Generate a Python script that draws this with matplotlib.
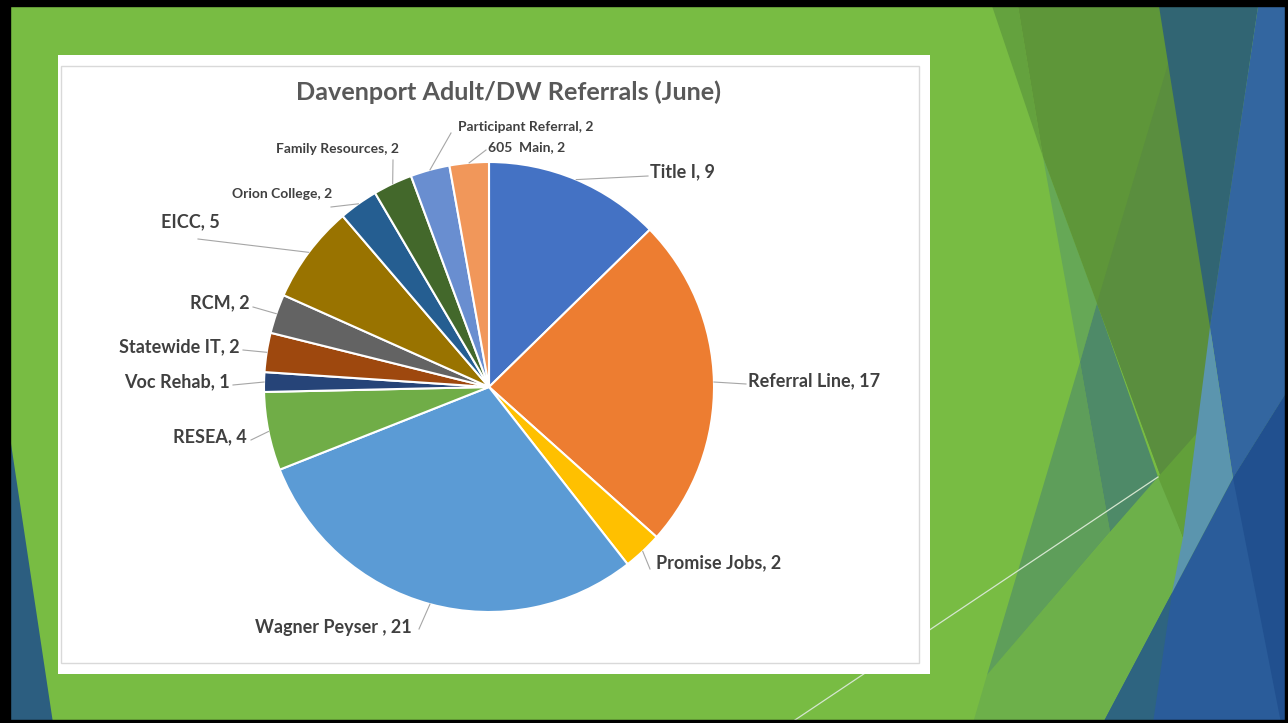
"""Davenport Adult/DW Referrals (June) pie chart on a slide-style background."""

import matplotlib

matplotlib.use("Agg")

import numpy as np
import matplotlib.pyplot as plt
from matplotlib.patches import Polygon, Rectangle

W, H = 1288, 723

# data
categories = [
    "Title I", "Referral Line", "Promise Jobs", "Wagner Peyser ", "RESEA",
    "Voc Rehab", "Statewide IT", "RCM", "EICC", "Orion College",
    "Family Resources", "Participant Referral", "605  Main",
]
values = [9, 17, 2, 21, 4, 1, 2, 2, 5, 2, 2, 2, 2]
colors = [
    "#4472C4", "#ED7D31", "#FFC000", "#5B9BD5", "#70AD47", "#264478",
    "#9E480E", "#636363", "#997300", "#255E91", "#43682B", "#698ED0",
    "#F1975A",
]

# label layout in slide pixels: text x, text y, ha, size, leader end x, leader end y
label_layout = [
    (650, 172, "left", 13, 648, 176),
    (748, 381, "left", 13, 746, 384),
    (656, 563, "left", 13, 650, 569),
    (412, 627, "right", 13, 419, 629),
    (247, 437, "right", 13, 251, 440),
    (230, 382, "right", 13, 233, 385),
    (240, 347, "right", 13, 243, 350),
    (250, 303, "right", 13, 253, 307),
    (220, 222, "right", 13, 198, 239),
    (332, 194, "right", 10, 331, 207),
    (399, 149, "right", 10, 393, 160),
    (458, 127, "left", 10, 451, 133),
    (488, 147, "left", 10, 486, 150),
]

LABEL_FONT = ["Lato", "DejaVu Sans"]

fig = plt.figure(figsize=(W / 100, H / 100), dpi=100)
fig.patch.set_facecolor("black")

# slide background
bg = fig.add_axes([0, 0, 1, 1])
bg.set_xlim(0, W)
bg.set_ylim(H, 0)
bg.axis("off")

bg.add_patch(Rectangle((0, 0), W, H, color="#78BC43", zorder=0))

shapes = [
    ([(10, 437), (10, 723), (53, 723)], "#2C5E80"),
    ([(973, 723), (987, 675), (1220, 405), (1288, 380), (1288, 723)], "#6DB04A"),
    ([(1080, 362), (987, 675), (1110, 532)], "#5E9E5A"),
    ([(1043, 157), (1097, 303), (1080, 362)], "#66A856"),
    ([(1097, 303), (1080, 362), (1110, 532), (1158, 477)], "#4E8A68"),
    ([(990, 0), (1017, 0), (1043, 157)], "#64A23E"),
    ([(1017, 0), (1258, 0), (1183, 537), (1043, 157)], "#5E9639"),
    ([(1187, 0), (1258, 0), (1183, 537), (1097, 303)], "#5A8E3E"),
    ([(1158, 477), (1197, 433), (1183, 537)], "#62A03A"),
    ([(1158, 0), (1259, 0), (1210, 327)], "#316573"),
    ([(1259, 0), (1288, 0), (1288, 390), (1233, 478), (1210, 327)], "#3366A0"),
    ([(1210, 327), (1233, 478), (1172, 593), (1183, 537)], "#5B95AE"),
    ([(1288, 390), (1288, 723), (1103, 723), (1172, 593), (1233, 478)], "#2A5C9A"),
    ([(1233, 478), (1288, 390), (1288, 723), (1281, 723)], "#21508F"),
    ([(1103, 723), (1153, 723), (1172, 593)], "#2E6480"),
]
for pts, c in shapes:
    bg.add_patch(Polygon(pts, closed=True, facecolor=c, edgecolor="none", zorder=1))

bg.plot([792, 1158], [722, 477], color="#D5E6CF", lw=0.9, zorder=2)

# slide frame
for x, y, w, h in [(0, 0, 10, H), (0, 0, W, 6), (1285, 0, 3, H), (0, 720, W, 3)]:
    bg.add_patch(Rectangle((x, y), w, h, color="black", zorder=5))

# chart panel
bg.add_patch(Rectangle((58, 55), 872, 619, facecolor="white", edgecolor="none", zorder=3))
bg.add_patch(Rectangle((61, 66), 858, 597, facecolor="none", edgecolor="#D9D9D9",
                       lw=1, zorder=3))

fig.text(508 / W, 1 - 92 / H, "Davenport Adult/DW Referrals (June)", ha="center",
         va="center", fontsize=18.2, fontweight="bold", color="#595959",
         family=LABEL_FONT)

# pie
CX, CY, R = 489, 387, 225
ax = fig.add_axes([(CX - R) / W, (H - CY - R) / H, 2 * R / W, 2 * R / H])
wedges, _ = ax.pie(values, colors=colors, startangle=90, counterclock=False,
                   radius=1, wedgeprops=dict(edgecolor="white", linewidth=1.5))
ax.set_xlim(-1, 1)
ax.set_ylim(-1, 1)
ax.set_aspect("equal")
ax.axis("off")


def to_data(px, py):
    return (px - CX) / R, (CY - py) / R


for wedge, name, val, lay in zip(wedges, categories, values, label_layout):
    tx, ty, ha, size, lx, ly = lay
    mid = np.deg2rad((wedge.theta1 + wedge.theta2) / 2)
    sx, sy = np.cos(mid), np.sin(mid)
    ex, ey = to_data(lx, ly)
    ax.plot([sx, ex], [sy, ey], color="#A6A6A6", lw=0.8, clip_on=False)
    x, y = to_data(tx, ty)
    ax.text(x, y, f"{name}, {val}", ha=ha, va="center", fontsize=size,
            fontweight="bold", color="#404040", family=LABEL_FONT, clip_on=False)

fig.savefig("out.png", dpi=100, facecolor=fig.get_facecolor())
